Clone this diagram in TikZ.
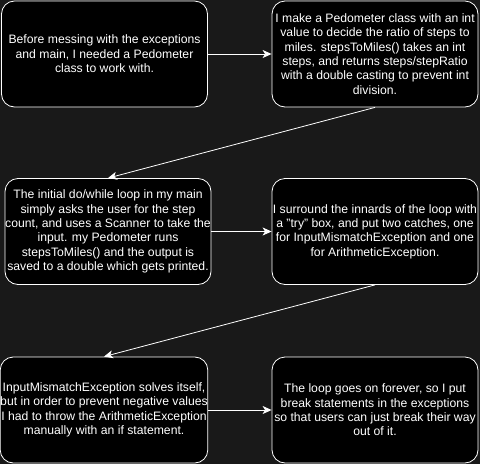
\documentclass[tikz,border=0pt]{standalone}
\usepackage{fontspec}
\setmainfont{Liberation Sans}
\usepackage{xcolor}
\usepackage{tikz}
\usetikzlibrary{positioning,calc,arrows.meta}
\definecolor{bgdark}{HTML}{191919}

\begin{document}
\begin{tikzpicture}[x=1pt, y=-1pt, >={Stealth[length=9pt,width=8pt,inset=2.5pt]},
    note/.style={draw=white, fill=black, text=white, rounded corners=13pt, line width=0.8pt,
        minimum width=206pt, minimum height=106pt, inner xsep=0pt, inner ysep=1pt, align=center,
        font=\fontsize{12.2}{14.4}\selectfont},
    flow/.style={->, draw=white, line width=0.8pt}]
    \fill[bgdark] (0,0) rectangle (480,464);
    \useasboundingbox (0,0) rectangle (480,464);

    \node[note] (pedo) at (104.5, 54) {Before messing with the exceptions\\and main, I needed a Pedometer\\class to work with.};
    \node[note] (ratio) at (375, 54) {I make a Pedometer class with an int\\value to decide the ratio of steps to\\miles. stepsToMiles() takes an int\\steps, and returns steps/stepRatio\\with a double casting to prevent int\\division.};
    \draw[flow] (pedo) -- (ratio);

    \node[note] (loop) at (108, 231.5) {The initial do/while loop in my main\\simply asks the user for the step\\count, and uses a Scanner to take the\\input. my Pedometer runs\\stepsToMiles() and the output is\\saved to a double which gets printed.};
    \node[note] (trybox) at (375, 231.5) {I surround the innards of the loop with\\a \symbol{34}try\symbol{34} box, and put two catches, one\\for InputMismatchException and one\\for ArithmeticException.};
    \draw[flow] (ratio.south) -- (loop.north);
    \draw[flow] (loop) -- (trybox);

    \node[note] (mismatch) at (104, 410) {InputMismatchException solves itself,\\but in order to prevent negative values\\I had to throw the ArithmeticException\\manually with an if statement.};
    \node[note] (breakout) at (375, 410) {The loop goes on forever, so I put\\break statements in the exceptions\\so that users can just break their way\\out of it.};
    \draw[flow] (trybox.south) -- (mismatch.north);
    \draw[flow] (mismatch) -- (breakout);
\end{tikzpicture}
\end{document}
